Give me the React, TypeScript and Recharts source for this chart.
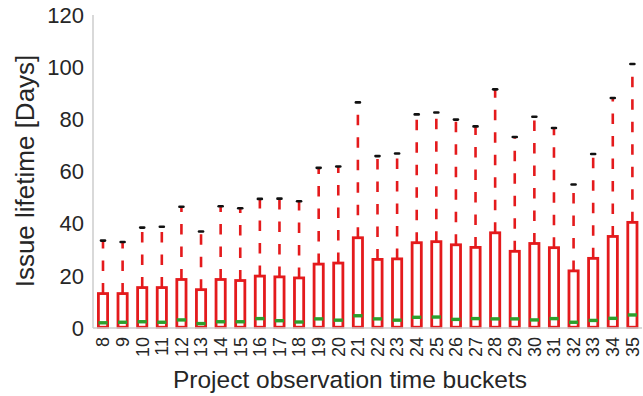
import React from 'react';
import { ComposedChart, Bar, XAxis, YAxis } from 'recharts';

// Project observation time buckets
const buckets = ['8', '9', '10', '11', '12', '13', '14', '15', '16', '17', '18', '19', '20', '21',
  '22', '23', '24', '25', '26', '27', '28', '29', '30', '31', '32', '33', '34', '35'];

// Box plot stats per bucket (days)
const whiskerLow = [0, 0, 0, 0, 0, 0, 0, 0, 0, 0, 0, 0, 0, 0, 0, 0, 0, 0, 0, 0, 0, 0, 0, 0, 0, 0, 0, 0];
const q1 = [0.3, 0.3, 0.3, 0.3, 0.3, 0.3, 0.3, 0.3, 0.3, 0.3, 0.3, 0.3, 0.3, 0.3,
  0.3, 0.3, 0.3, 0.3, 0.3, 0.3, 0.3, 0.3, 0.3, 0.3, 0.3, 0.3, 0.3, 0.3];
const medians = [2.0, 2.2, 2.4, 2.2, 3.1, 1.7, 2.4, 2.4, 3.6, 2.8, 2.3, 3.5, 3.0, 4.7,
  3.5, 3.0, 4.1, 4.2, 3.3, 3.6, 3.5, 3.5, 3.1, 3.6, 2.2, 2.9, 3.7, 5.0];
const q3 = [13.2, 13.2, 15.5, 15.5, 18.6, 14.7, 18.6, 18.2, 19.9, 19.6, 19.2, 24.5, 24.9, 34.6,
  26.3, 26.5, 32.7, 33.1, 31.9, 30.9, 36.5, 29.4, 32.4, 30.8, 21.9, 26.7, 35.1, 40.5];
const whiskerHigh = [33.5, 33, 38.5, 38.8, 46.5, 37, 46.7, 45.9, 49.5, 49.6, 48.6, 61.4, 61.9, 86.5,
  65.9, 66.9, 81.9, 82.6, 79.9, 77.3, 91.5, 73.2, 81, 76.7, 55, 66.7, 88.2, 101.2];

const yTicks = [0, 20, 40, 60, 80, 100, 120];

const data = buckets.map((b, i) => ({
  bucket: b,
  low: whiskerLow[i],
  q1: q1[i],
  median: medians[i],
  q3: q3[i],
  high: whiskerHigh[i],
}));

const RED = '#e41a1c';
const GREEN = '#2ca02c';
const TEXT = '#262626';
const SPINE = '#cccccc';
const FONT = '"Liberation Sans", Arial, sans-serif';

const BoxShape = (props: any) => {
  const { x, y, width, height, payload } = props;
  const lo = payload.low;
  const hi = payload.high;
  const k = height / (hi - lo);
  const py = (v: number) => y + (hi - v) * k;
  const cx = x + width / 2;
  const inset = 1.4;
  return (
    <g>
      <line x1={cx} x2={cx} y1={py(payload.q3)} y2={py(hi)} stroke={RED} strokeWidth={2.6} strokeDasharray="10.5 12" />
      <line x1={cx} x2={cx} y1={py(payload.q1)} y2={py(lo)} stroke={RED} strokeWidth={2.6} strokeDasharray="10.5 12" />
      <rect
        x={x + inset}
        y={py(payload.q3)}
        width={width - 2 * inset}
        height={py(payload.q1) - py(payload.q3)}
        fill="none"
        stroke={RED}
        strokeWidth={2.8}
      />
      <line x1={x + inset} x2={x + width - inset} y1={py(payload.median)} y2={py(payload.median)} stroke={GREEN} strokeWidth={3.4} />
      <line x1={cx - 2} x2={cx + 2} y1={py(hi)} y2={py(hi)} stroke="#111" strokeWidth={2.6} strokeLinecap="round" />
    </g>
  );
};

const XTick = (props: any) => {
  const { x, y, payload } = props;
  return (
    <text
      transform={`translate(${x},${y + 9}) rotate(-90)`}
      textAnchor="end"
      dy="0.36em"
      fill={TEXT}
      fontSize={18}
      fontFamily={FONT}
    >
      {payload.value}
    </text>
  );
};

export default function App() {
  return (
    <div style={{ position: 'absolute', left: 0, top: 0, background: '#fff' }}>
      <ComposedChart width={643} height={396} data={data} margin={{ top: 15, right: 1, bottom: 0, left: 0 }}>
        <XAxis
          xAxisId="top"
          orientation="top"
          dataKey="bucket"
          height={0}
          tick={false}
          axisLine={{ stroke: SPINE, strokeWidth: 1.5 }}
          tickLine={false}
        />
        <XAxis
          dataKey="bucket"
          height={68}
          interval={0}
          axisLine={{ stroke: SPINE, strokeWidth: 1.5 }}
          tickLine={false}
          tickSize={0}
          tickMargin={0}
          tick={<XTick />}
          label={{
            content: () => (
              <text x={350} y={388} textAnchor="middle" fill={TEXT} fontSize={24.5} fontFamily={FONT}>
                Project observation time buckets
              </text>
            ),
          }}
        />
        <YAxis
          width={93}
          domain={[0, 120]}
          ticks={yTicks}
          axisLine={{ stroke: SPINE, strokeWidth: 1.5 }}
          tickLine={false}
          tickSize={0}
          tickMargin={9}
          tick={{ fill: TEXT, fontSize: 22, fontFamily: FONT }}
          label={{
            content: () => (
              <text
                transform="translate(25,171) rotate(-90)"
                textAnchor="middle"
                dominantBaseline="central"
                fill={TEXT}
                fontSize={26}
                fontFamily={FONT}
              >
                Issue lifetime [Days]
              </text>
            ),
          }}
        />
        <Bar
          dataKey={(d: any) => [d.low, d.high]}
          barSize={12}
          shape={<BoxShape />}
          isAnimationActive={false}
        />
      </ComposedChart>
    </div>
  );
}
